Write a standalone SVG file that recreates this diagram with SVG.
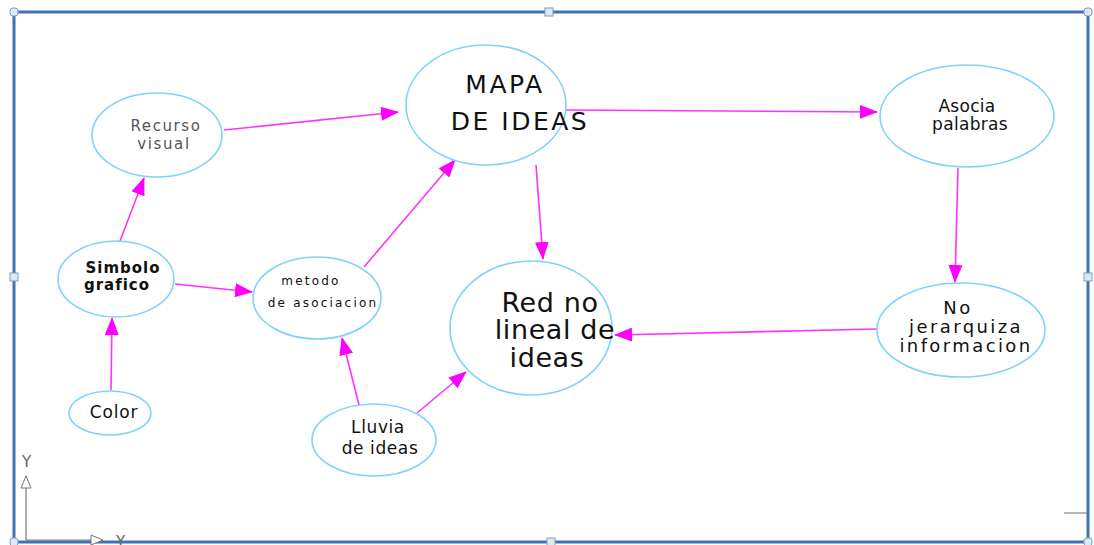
<svg xmlns="http://www.w3.org/2000/svg" width="1094" height="545" viewBox="0 0 1094 545">
<style>
.node ellipse{fill:#fff;stroke:#7fd3fb;stroke-width:1.6}
.t{font-family:"DejaVu Sans","Liberation Sans",sans-serif;fill:#111;text-anchor:middle}
.con line{stroke:#ff33ff;stroke-width:1.6}
.handle{fill:#dceaf2;stroke:#7aa0c0;stroke-width:1}
</style>
<defs>
<marker id="ah" markerWidth="18" markerHeight="14" refX="17" refY="7" orient="auto" markerUnits="userSpaceOnUse">
<path d="M0,0 L18,7 L0,14 Z" fill="#ff00ff"/>
</marker>
<marker id="ax" markerWidth="14" markerHeight="12" refX="13" refY="6" orient="auto" markerUnits="userSpaceOnUse">
<path d="M1,1 L13,6 L1,11 Z" fill="#fff" stroke="#777" stroke-width="1"/>
</marker>
</defs>
<rect width="1094" height="545" fill="#fff"/>
<rect x="14" y="12" width="1074" height="530" fill="#fff" stroke="#3d72b4" stroke-width="3"/>

<g class="con">
<line x1="224" y1="130" x2="398" y2="112" marker-end="url(#ah)"/>
<line x1="566" y1="110" x2="877" y2="112" marker-end="url(#ah)"/>
<line x1="536" y1="165" x2="543" y2="259" marker-end="url(#ah)"/>
<line x1="958" y1="168" x2="955" y2="282" marker-end="url(#ah)"/>
<line x1="877" y1="329" x2="615" y2="335" marker-end="url(#ah)"/>
<line x1="120" y1="241" x2="144" y2="178" marker-end="url(#ah)"/>
<line x1="175" y1="284" x2="252" y2="292" marker-end="url(#ah)"/>
<line x1="111" y1="390" x2="112" y2="318" marker-end="url(#ah)"/>
<line x1="364" y1="267" x2="455" y2="160" marker-end="url(#ah)"/>
<line x1="359" y1="405" x2="342" y2="338" marker-end="url(#ah)"/>
<line x1="417" y1="413" x2="466" y2="372" marker-end="url(#ah)"/>
</g>

<g id="mapa" class="node"><ellipse cx="486" cy="105" rx="80" ry="60"/>
<text class="t" font-size="25" letter-spacing="2.5"><tspan x="505" y="93">MAPA</tspan><tspan x="520" y="130">DE IDEAS</tspan></text></g>
<g id="recurso" class="node"><ellipse cx="157" cy="135" rx="65" ry="42"/>
<text class="t" font-size="15" letter-spacing="1.6" style="fill:#555"><tspan x="166" y="131">Recurso</tspan><tspan x="164" y="149">visual</tspan></text></g>
<g id="asocia" class="node"><ellipse cx="967" cy="116" rx="87" ry="51"/>
<text class="t" font-size="17" letter-spacing="0.3"><tspan x="967" y="112">Asocia</tspan><tspan x="970" y="130">palabras</tspan></text></g>
<g id="simbolo" class="node"><ellipse cx="116" cy="279" rx="58" ry="38"/>
<text class="t" font-size="15" font-weight="bold" letter-spacing="1"><tspan x="123" y="273">Simbolo</tspan><tspan x="117" y="290">grafico</tspan></text></g>
<g id="metodo" class="node"><ellipse cx="317" cy="298" rx="64" ry="41"/>
<text class="t" font-size="12" letter-spacing="2.2"><tspan x="311" y="285">metodo</tspan><tspan x="323" y="307">de asociacion</tspan></text></g>
<g id="red" class="node"><ellipse cx="531" cy="328" rx="81" ry="67"/>
<text class="t" font-size="27" letter-spacing="0.6"><tspan x="550" y="312">Red no</tspan><tspan x="555" y="339">lineal de</tspan><tspan x="547" y="367">ideas</tspan></text></g>
<g id="nojer" class="node"><ellipse cx="961" cy="330" rx="84" ry="47"/>
<text class="t" font-size="18" letter-spacing="2.4"><tspan x="958" y="314">No</tspan><tspan x="966" y="333">jerarquiza</tspan><tspan x="966" y="352">informacion</tspan></text></g>
<g id="color" class="node"><ellipse cx="110" cy="413" rx="41" ry="22"/>
<text class="t" font-size="17" letter-spacing="0.8"><tspan x="114" y="418">Color</tspan></text></g>
<g id="lluvia" class="node"><ellipse cx="374" cy="440" rx="62" ry="36"/>
<text class="t" font-size="17" letter-spacing="0.6"><tspan x="378" y="433">Lluvia</tspan><tspan x="380" y="454">de ideas</tspan></text></g>

<g id="axes">
<line x1="26" y1="540" x2="26" y2="476" stroke="#777" stroke-width="1.2" marker-end="url(#ax)"/>
<line x1="26" y1="540" x2="103" y2="540" stroke="#777" stroke-width="1.2" marker-end="url(#ax)"/>
<text x="22" y="467" font-family="DejaVu Sans,sans-serif" font-size="15" fill="#666">Y</text>
<text x="116" y="547" font-family="DejaVu Sans,sans-serif" font-size="15" fill="#666">Y</text>
<line x1="1064" y1="513" x2="1087" y2="513" stroke="#888" stroke-width="1.2"/>
</g>

<g id="handles">
<rect class="handle" x="10" y="8" width="8" height="8" rx="3"/>
<rect class="handle" x="545" y="8" width="8" height="8"/>
<rect class="handle" x="1084" y="8" width="8" height="8" rx="3"/>
<rect class="handle" x="10" y="273" width="8" height="8"/>
<rect class="handle" x="1084" y="273" width="8" height="8"/>
<rect class="handle" x="10" y="538" width="8" height="8" rx="3"/>
<rect class="handle" x="547" y="538" width="8" height="8"/>
<rect class="handle" x="1084" y="538" width="8" height="8" rx="3"/>
</g>
</svg>
